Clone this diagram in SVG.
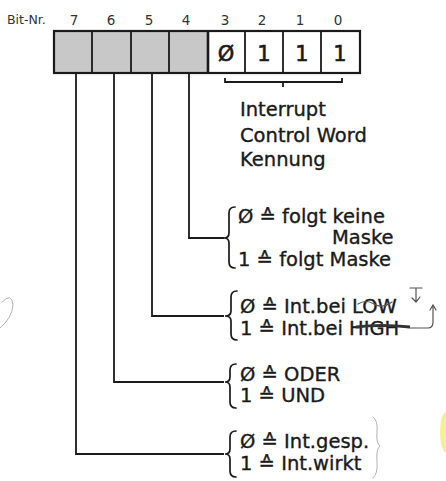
<svg xmlns="http://www.w3.org/2000/svg" width="446" height="481" viewBox="0 0 446 481">
<style>
  .t{font-family:"DejaVu Sans","Liberation Sans",sans-serif;fill:#1a1a1a;}
  .lbl{font-size:19.5px;stroke:#1a1a1a;stroke-width:0.35;}
  .num{font-size:13.5px;fill:#333;}
  .bit{font-size:21px;text-anchor:middle;stroke:#1a1a1a;stroke-width:0.6;}
  .ln{fill:none;stroke:#1a1a1a;stroke-width:1.8;}
  .br{fill:none;stroke:#1a1a1a;stroke-width:1.7;stroke-linecap:round;}
  .gray{fill:#c8c8c8;}
  .pen{fill:none;stroke:#555;stroke-width:1.2;stroke-linecap:round;}
  .pencil{fill:none;stroke:#aaa;stroke-width:0.9;stroke-linecap:round;}
</style>

<g id="header">
  <text class="t num" x="7" y="24" style="font-size:12.5px">Bit-Nr.</text>
  <text class="t num" x="74" y="25" text-anchor="middle">7</text>
  <text class="t num" x="111" y="25" text-anchor="middle">6</text>
  <text class="t num" x="149" y="25" text-anchor="middle">5</text>
  <text class="t num" x="186" y="25" text-anchor="middle">4</text>
  <text class="t num" x="225" y="25" text-anchor="middle">3</text>
  <text class="t num" x="262" y="25" text-anchor="middle">2</text>
  <text class="t num" x="300" y="25" text-anchor="middle">1</text>
  <text class="t num" x="338" y="25" text-anchor="middle">0</text>
</g>

<g id="register">
  <rect class="gray" x="54" y="31" width="154" height="42"/>
  <rect x="208" y="31" width="152" height="42" fill="#fff"/>
  <rect x="54" y="31" width="306" height="42" fill="none" stroke="#1a1a1a" stroke-width="2.2"/>
  <path class="ln" d="M92 31V73M131 31V73M169 31V73M245 31V73M283 31V73M321 31V73"/>
  <path d="M208 31V73" stroke="#1a1a1a" stroke-width="2.6"/>
  <text class="t bit" x="226" y="61">Ø</text>
  <text class="t bit" x="264" y="61">1</text>
  <text class="t bit" x="302" y="61">1</text>
  <text class="t bit" x="340" y="61">1</text>
</g>

<g id="connectors">
  <path class="ln" d="M225 78V82H342V78M283 82V87"/>
  <path class="ln" d="M189 73V238H224"/>
  <path class="ln" d="M152 73V316H224"/>
  <path class="ln" d="M114 73V382H224"/>
  <path class="ln" d="M76 73V454H224"/>
</g>

<g id="icw-label">
  <text class="t lbl" x="240" y="116">Interrupt</text>
  <text class="t lbl" x="240" y="142">Control Word</text>
  <text class="t lbl" x="240" y="166">Kennung</text>
</g>

<g id="bit4">
  <path class="br" d="M235 207Q229 207 229 213V233Q229 238 224 238Q229 238 229 243V262Q229 268 235 268"/>
  <text class="t lbl" x="238" y="223">Ø ≙ folgt keine</text>
  <text class="t lbl" x="332" y="244">Maske</text>
  <text class="t lbl" x="238" y="266">1 ≙ folgt Maske</text>
</g>

<g id="bit5">
  <path class="br" d="M237 291Q231 291 231 297V311Q231 316 225 316Q231 316 231 321V334Q231 340 237 340"/>
  <text class="t lbl" x="240" y="313">Ø ≙ Int.bei LOW</text>
  <text class="t lbl" x="240" y="335">1 ≙ Int.bei HIGH</text>
  <path class="pen" d="M358 304Q366 299 374 304T392 302"/>
  <path d="M356 327Q380 324 410 327" stroke="#333" stroke-width="2.8" fill="none"/>
  <path class="pen" d="M410 328H428Q433 328 433 322V307M430 310L433 305L436 310"/>
  <path class="pen" d="M410 288H422M416 288V302M412 298L416 302L420 297"/>
</g>

<g id="bit6">
  <path class="br" d="M236 364Q230 364 230 370V377Q230 382 225 382Q230 382 230 387V402Q230 408 236 408"/>
  <text class="t lbl" x="240" y="381">Ø ≙ ODER</text>
  <text class="t lbl" x="240" y="402">1 ≙ UND</text>
</g>

<g id="bit7">
  <path class="br" d="M236 431Q230 431 230 437V449Q230 454 225 454Q230 454 230 459V471Q230 477 236 477"/>
  <text class="t lbl" x="240" y="448">Ø ≙ Int.gesp.</text>
  <text class="t lbl" x="240" y="470">1 ≙ Int.wirkt</text>
  <path class="pencil" d="M373 417Q378 420 377 432Q376 443 380 446Q376 449 377 462Q378 474 373 478"/>
</g>

<g id="marks">
  <path class="pencil" d="M2 302Q12 292 13 305Q12 318 0 328"/>
  <ellipse cx="446" cy="432" rx="6" ry="20" fill="#f3ec7a" opacity="0.8"/>
</g>
</svg>
